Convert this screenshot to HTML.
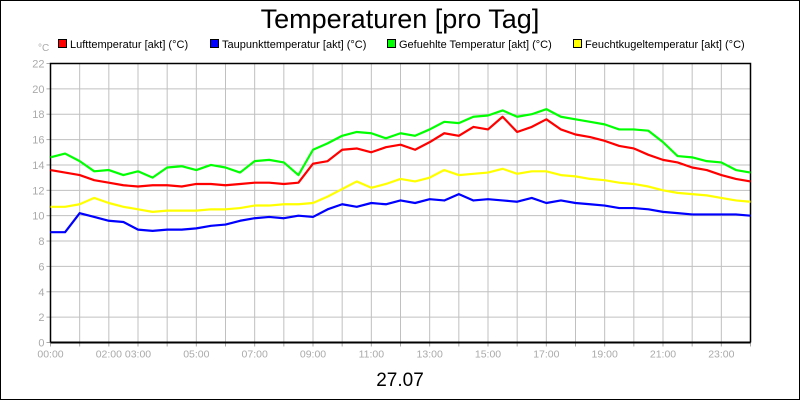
<!DOCTYPE html>
<html><head><meta charset="utf-8"><style>
body{margin:0;background:#fff}
svg{display:block;font-family:"Liberation Sans",sans-serif}
</style></head><body>
<svg id="chart" width="800" height="400" viewBox="0 0 800 400">
<rect x="0.5" y="0.5" width="799" height="399" fill="#fff" stroke="#000"/>
<text x="400" y="28" font-size="27" text-anchor="middle">Temperaturen [pro Tag]</text>
<text x="38" y="51" font-size="10" fill="#aaa">°C</text>
<g font-size="11">
 <g><rect x="58.5" y="39.5" width="8" height="8" fill="#f00" stroke="#000"/><text x="70" y="48">Lufttemperatur [akt] (°C)</text></g>
 <g><rect x="210.5" y="39.5" width="8" height="8" fill="#00f" stroke="#000"/><text x="222" y="48">Taupunkttemperatur [akt] (°C)</text></g>
 <g><rect x="387.5" y="39.5" width="8" height="8" fill="#0f0" stroke="#000"/><text x="399" y="48">Gefuehlte Temperatur [akt] (°C)</text></g>
 <g><rect x="573.5" y="39.5" width="8" height="8" fill="#ff0" stroke="#000"/><text x="585" y="48">Feuchtkugeltemperatur [akt] (°C)</text></g>
</g>
<g id="grid"></g>
<g id="axes"></g>
<g id="series"></g>
<text x="400" y="386" font-size="19" text-anchor="middle">27.07</text>
</svg>
<script>
const hours = [];
for (let i = 0; i <= 48; i++) hours.push(i / 2);
const yTicks = [0,2,4,6,8,10,12,14,16,18,20,22];
const xTickHours = [0,2,3,5,7,9,11,13,15,17,19,21,23];
const xTickLabels = ["00:00","02:00","03:00","05:00","07:00","09:00","11:00","13:00","15:00","17:00","19:00","21:00","23:00"];
const luft = [13.6,13.4,13.2,12.8,12.6,12.4,12.3,12.4,12.4,12.3,12.5,12.5,12.4,12.5,12.6,12.6,12.5,12.6,14.1,14.3,15.2,15.3,15.0,15.4,15.6,15.2,15.8,16.5,16.3,17.0,16.8,17.8,16.6,17.0,17.6,16.8,16.4,16.2,15.9,15.5,15.3,14.8,14.4,14.2,13.8,13.6,13.2,12.9,12.7];
const taupunkt = [8.7,8.7,10.2,9.9,9.6,9.5,8.9,8.8,8.9,8.9,9.0,9.2,9.3,9.6,9.8,9.9,9.8,10.0,9.9,10.5,10.9,10.7,11.0,10.9,11.2,11.0,11.3,11.2,11.7,11.2,11.3,11.2,11.1,11.4,11.0,11.2,11.0,10.9,10.8,10.6,10.6,10.5,10.3,10.2,10.1,10.1,10.1,10.1,10.0];
const gefuehlt = [14.6,14.9,14.3,13.5,13.6,13.2,13.5,13.0,13.8,13.9,13.6,14.0,13.8,13.4,14.3,14.4,14.2,13.2,15.2,15.7,16.3,16.6,16.5,16.1,16.5,16.3,16.8,17.4,17.3,17.8,17.9,18.3,17.8,18.0,18.4,17.8,17.6,17.4,17.2,16.8,16.8,16.7,15.8,14.7,14.6,14.3,14.2,13.6,13.4];
const feuchtkugel = [10.7,10.7,10.9,11.4,11.0,10.7,10.5,10.3,10.4,10.4,10.4,10.5,10.5,10.6,10.8,10.8,10.9,10.9,11.0,11.5,12.1,12.7,12.2,12.5,12.9,12.7,13.0,13.6,13.2,13.3,13.4,13.7,13.3,13.5,13.5,13.2,13.1,12.9,12.8,12.6,12.5,12.3,12.0,11.8,11.7,11.6,11.4,11.2,11.1];

const L=50.5,R=750.5,T=63.5,B=342.5;
const xs = h => L + (R-L)*h/24;
const ys = v => B - (B-T)*v/22;
const NS="http://www.w3.org/2000/svg";
function mk(tag, parent, attrs){const e=document.createElementNS(NS,tag);for(const k in attrs)e.setAttribute(k,attrs[k]);parent.appendChild(e);return e;}
const grid=document.getElementById('grid'), axes=document.getElementById('axes'), ser=document.getElementById('series');
for(let h=1;h<24;h++){
  const l=mk('line',grid,{x1:xs(h),x2:xs(h),y1:T,y2:B,stroke:'#c0c0c0'});
  
  
}
yTicks.forEach(v=>{
  if(v>0&&v<22){const l=mk('line',grid,{x1:L,x2:R,y1:ys(v),y2:ys(v),stroke:'#c0c0c0'});
  
  }
  const tk=mk('line',axes,{x1:L-4,x2:L,y1:ys(v),y2:ys(v),stroke:'#aaa'});
  
  
  const t=mk('text',axes,{x:L-6,y:ys(v)+4,'font-size':11,'text-anchor':'end',fill:'#aaa'});
  t.textContent=v;
  
  
});
for(let h=0;h<=24;h++){
  const tk=mk('line',axes,{x1:xs(h),x2:xs(h),y1:B,y2:B+4,stroke:'#aaa'});
  
  
}
xTickHours.forEach((h,i)=>{
  const t=mk('text',axes,{x:xs(h),y:B+15,'font-size':10.5,'text-anchor':'middle',fill:'#aaa'});
  t.textContent=xTickLabels[i];
  
  
});
const frame=mk('path',axes,{d:`M${L},${B}V${T}H${R}V${B}`,fill:'none',stroke:'#000','stroke-width':1.5});


const xa=mk('line',axes,{x1:L,x2:R,y1:B,y2:B,stroke:'#000','stroke-width':2});


[[feuchtkugel,'#ff0','line-feuchtkugel'],[taupunkt,'#00f','line-taupunkt'],[luft,'#f00','line-luft'],[gefuehlt,'#0f0','line-gefuehlt']].forEach(([arr,c,n])=>{
  const p=mk('polyline',ser,{points:arr.map((v,i)=>xs(hours[i])+','+ys(v)).join(' '),fill:'none',stroke:c,'stroke-width':2.2,'stroke-linejoin':'round'});
  
  
});
</script>
</body></html>
